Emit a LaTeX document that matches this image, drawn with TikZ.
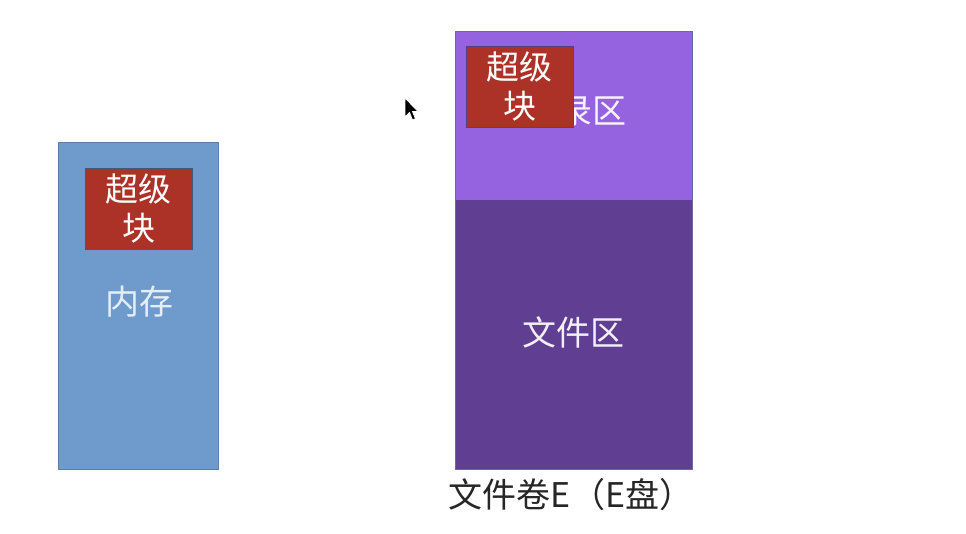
\documentclass[tikz,border=0pt]{standalone}
\usepackage{fontspec}
\newfontfamily\cjk{Noto Sans CJK SC}
\definecolor{memblue}{HTML}{6E9BCB}
\definecolor{memedge}{HTML}{5A7FA8}
\definecolor{sbred}{HTML}{AC3127}
\definecolor{dirpurple}{HTML}{9563E0}
\definecolor{filepurple}{HTML}{603F93}
\definecolor{voledge}{HTML}{6A6A9A}
\definecolor{pale}{HTML}{E4EEF8}
\tikzset{
  region/.style={draw=#1, line width=0.8pt, inner sep=0pt, outer sep=0pt},
  sbbox/.style={fill=sbred, draw=memedge!70!black, line width=0.6pt},
  label/.style={text=pale, font=\cjk\fontsize{34}{40}\selectfont, align=center, inner sep=0pt},
  sblabel/.style={text=white, font=\cjk\fontsize{33}{39}\selectfont, align=center, inner sep=0pt},
}
\begin{document}
\begin{tikzpicture}[x=1pt,y=-1pt]
\useasboundingbox (0,0) rectangle (966,534);
\fill[white] (0,0) rectangle (966,534);
% memory
\draw[region=memedge, fill=memblue] (58,142) rectangle (218,469);
\coordinate (memc) at (139,302);
\node[label] (mem) at (memc) {内存};
\draw[sbbox] (85,168) rectangle (192,249);
\node[sblabel] (sb1) at (138.5,208) {超级\\块};
% volume
\fill[dirpurple] (455,31) rectangle (692,200);
\fill[filepurple] (455,200) rectangle (692,469);
\draw[voledge, line width=0.8pt] (455,31) rectangle (692,469);
\begin{scope}
  \clip (573.3,31) rectangle (692,200);
  \node[label, text=white!92!dirpurple] (dir) at (575,112) {目录区};
\end{scope}
\node[label, text=white!92!filepurple] (file) at (573,332) {文件区};
\draw[sbbox, draw=dirpurple!60!black] (466,46) rectangle (573,127);
\node[sblabel] (sb2) at (519.5,86) {超级\\块};
\node[font=\cjk\fontsize{34}{40}\selectfont, text=black!85, inner sep=0pt] (vol) at (571,495) {文件卷E（E盘）};
% cursor
\draw[fill=black, draw=white, line width=0.8pt, line join=miter]
  (405,98) -- (405,117) -- (409.5,112.5) -- (412.5,120) -- (415.5,118.8) -- (412.5,111.5) -- (418,111.5) -- cycle;
\end{tikzpicture}
\end{document}
